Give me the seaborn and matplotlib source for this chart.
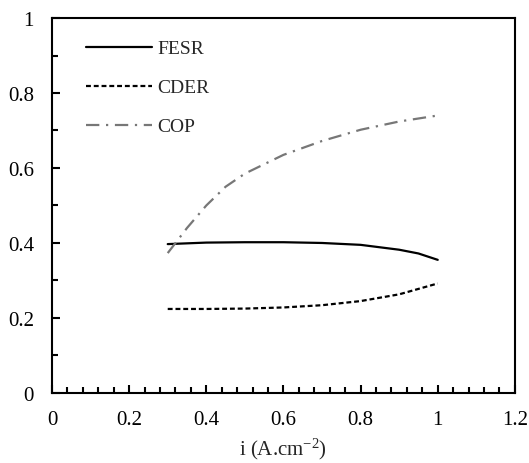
import numpy as np
import pandas as pd
import seaborn as sns
import matplotlib.pyplot as plt
from matplotlib.ticker import MultipleLocator

# valores
i_fesr = [0.3, 0.4, 0.5, 0.6, 0.7, 0.8, 0.9, 0.95, 1.0]
fesr = [0.397, 0.401, 0.402, 0.402, 0.400, 0.395, 0.382, 0.372, 0.355]

i_cder = [0.3, 0.4, 0.5, 0.6, 0.7, 0.8, 0.9, 1.0]
cder = [0.224, 0.224, 0.225, 0.228, 0.234, 0.245, 0.263, 0.292]

i_cop = [0.3, 0.35, 0.4, 0.45, 0.5, 0.6, 0.7, 0.8, 0.9, 1.0]
cop = [0.373, 0.44, 0.50, 0.55, 0.585, 0.635, 0.672, 0.702, 0.724, 0.74]

xticks = [0, 0.2, 0.4, 0.6, 0.8, 1.0, 1.2]
xtick_labels = ["0", "0.2", "0.4", "0.6", "0.8", "1", "1.2"]
yticks = [0, 0.2, 0.4, 0.6, 0.8, 1.0]
ytick_labels = ["0", "0.2", "0.4", "0.6", "0.8", "1"]

sns.set_style("ticks")
plt.rcParams["font.family"] = ["Liberation Serif", "DejaVu Serif"]
plt.rcParams["mathtext.fontset"] = "custom"
plt.rcParams["mathtext.rm"] = "Liberation Serif"
plt.rcParams["mathtext.it"] = "Liberation Serif:italic"
plt.rcParams["axes.edgecolor"] = "black"
plt.rcParams["xtick.color"] = "black"
plt.rcParams["ytick.color"] = "black"
fs = 15

fig = plt.figure(figsize=(5.29, 4.64), dpi=100)
ax = fig.add_axes([0.0983, 0.151, 0.875, 0.808])

df_fesr = pd.DataFrame({"i": i_fesr, "v": fesr})
df_cder = pd.DataFrame({"i": i_cder, "v": cder})
df_cop = pd.DataFrame({"i": i_cop, "v": cop})

sns.lineplot(data=df_fesr, x="i", y="v", ax=ax, color="black", lw=1.6, label="FESR")
sns.lineplot(data=df_cder, x="i", y="v", ax=ax, color="black", lw=1.6, label="CDER")
ax.lines[-1].set_dashes((2.2, 1.3))
sns.lineplot(data=df_cop, x="i", y="v", ax=ax, color="#777777", lw=1.6, label="COP")
ax.lines[-1].set_dashes((6, 3, 1, 3))

ax.set_xlim(0, 1.2)
ax.set_ylim(0, 1)
ax.set_xticks(xticks, xtick_labels)
ax.set_yticks(yticks, ytick_labels)
ax.xaxis.set_minor_locator(MultipleLocator(0.04))
ax.yaxis.set_minor_locator(MultipleLocator(0.1))
ax.tick_params(which="major", direction="in", length=6, width=1.5, labelsize=fs)
ax.tick_params(which="minor", direction="in", length=4, width=1.5)
ax.tick_params(axis="x", pad=12)
ax.tick_params(axis="y", pad=13)
for s in ax.spines.values():
    s.set_linewidth(1.5)

ax.set_xlabel("i (A.cm$^{-2}$)", fontsize=fs, labelpad=5)
ax.set_ylabel("")

ax.legend(loc="upper left", frameon=False, fontsize=14, handlelength=3.4,
          handletextpad=0.3, labelspacing=1.1, borderaxespad=0, borderpad=0,
          bbox_to_anchor=(0.073, 0.942))

plt.savefig("out.png", dpi=100)
